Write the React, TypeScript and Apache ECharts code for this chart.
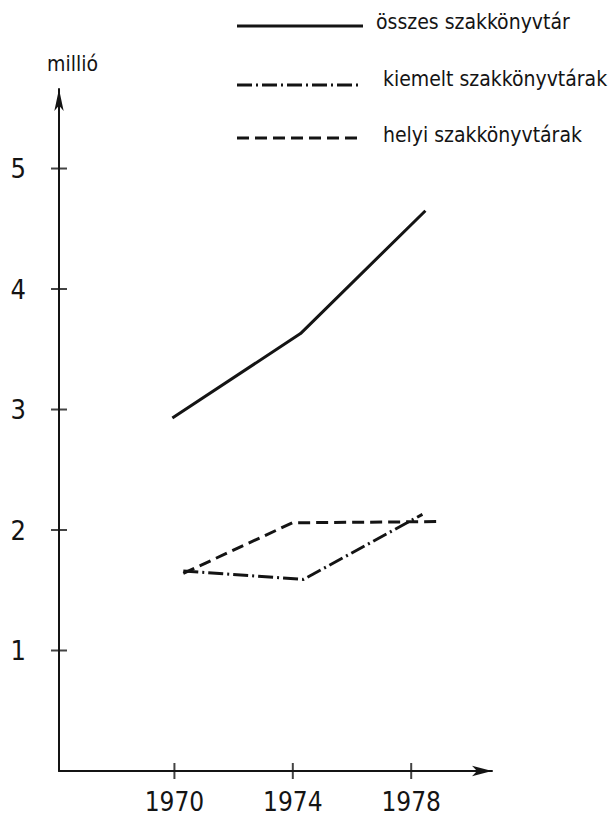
import React, { useEffect, useRef } from "react";
import * as echarts from "echarts";

// ---- data ----
const years = [1970, 1974, 1978];
const yTicks = [1, 2, 3, 4, 5];
const seriesNames = ["összes szakkönyvtár", "kiemelt szakkönyvtárak", "helyi szakkönyvtárak"];
const osszesX = [1969.93, 1974.26, 1978.48];
const osszesY = [2.93, 3.63, 4.65];
const kiemeltX = [1970.3, 1974.36, 1978.38];
const kiemeltY = [1.66, 1.59, 2.13];
const helyiX = [1970.3, 1973.99, 1978.89];
const helyiY = [1.64, 2.06, 2.07];
const yUnit = "millió";

const INK = "#141414";
const DIGIT_FONT = "'DejaVu Sans Condensed', 'Liberation Sans', sans-serif";
const TEXT_FONT = "'DejaVu Sans Condensed', 'Liberation Sans', sans-serif";
const DASH = [12, 6];
const DASH_DOT = [15, 4, 2, 4];

const zip = (xs: number[], ys: number[]) => xs.map((x, i) => [x, ys[i]]);

export default function App() {
  const ref = useRef<HTMLDivElement>(null);
  useEffect(() => {
    if (!ref.current) return;
    const chart = echarts.init(ref.current, null, { renderer: "svg" });
    const xMin = 1966.1;
    const xMax = 1980.73;
    const yMin = 0;
    const yMax = 5.66;
    const legendRows = [
      { y: 26, tx: 376, ty: 22, dash: null as number[] | null, x2: 363 },
      { y: 85, tx: 383, ty: 79, dash: DASH_DOT, x2: 360 },
      { y: 138, tx: 383, ty: 135, dash: DASH, x2: 362 },
    ];
    const graphic: any[] = [];
    legendRows.forEach((r, i) => {
      graphic.push({
        type: "line",
        shape: { x1: 237, y1: r.y, x2: r.x2, y2: r.y },
        style: { stroke: INK, lineWidth: 3, lineDash: r.dash || undefined },
      });
      graphic.push({
        type: "text",
        x: r.tx,
        y: r.ty,
        style: {
          text: seriesNames[i],
          fontSize: 21,
          fontFamily: TEXT_FONT,
          fill: INK,
          align: "left",
          verticalAlign: "middle",
        },
      });
    });
    graphic.push({
      type: "text",
      x: 47,
      y: 64,
      style: {
        text: yUnit,
        fontSize: 21,
        fontFamily: TEXT_FONT,
        fill: INK,
        align: "left",
        verticalAlign: "middle",
      },
    });

    chart.setOption({
      animation: false,
      backgroundColor: "#ffffff",
      grid: {
        left: 59,
        right: 124,
        top: 89,
        bottom: 45,
        containLabel: false,
        outerBoundsMode: "none",
      },
      xAxis: {
        type: "value",
        min: xMin,
        max: xMax,
        axisLine: {
          show: true,
          symbol: ["none", "arrow"],
          symbolSize: [8, 20],
          lineStyle: { color: INK, width: 2 },
        },
        axisTick: { show: false },
        axisLabel: {
          customValues: years,
          margin: 19,
          fontSize: 26,
          lineHeight: 24,
          fontFamily: DIGIT_FONT,
          color: INK,
          formatter: (v: number) => String(Math.round(v)),
        },
        splitLine: { show: false },
      },
      yAxis: {
        type: "value",
        min: yMin,
        max: yMax,
        axisLine: {
          show: true,
          symbol: ["none", "arrow"],
          symbolSize: [7, 22],
          lineStyle: { color: INK, width: 2 },
        },
        axisTick: { show: false },
        axisLabel: {
          customValues: yTicks,
          margin: 33,
          fontSize: 27,
          fontFamily: DIGIT_FONT,
          color: INK,
          formatter: (v: number) => String(Math.round(v)),
        },
        splitLine: { show: false },
      },
      series: [
        {
          name: seriesNames[0],
          type: "line",
          data: zip(osszesX, osszesY),
          symbol: "none",
          lineStyle: { color: INK, width: 3, type: "solid" },
        },
        {
          name: seriesNames[1],
          type: "line",
          data: zip(kiemeltX, kiemeltY),
          symbol: "none",
          lineStyle: { color: INK, width: 3, type: DASH_DOT },
        },
        {
          name: seriesNames[2],
          type: "line",
          data: zip(helyiX, helyiY),
          symbol: "none",
          lineStyle: { color: INK, width: 3, type: DASH },
        },
        {
          name: "y-ticks",
          type: "scatter",
          data: yTicks.map((v) => [xMin, v]),
          symbol: "rect",
          symbolSize: [16, 2],
          itemStyle: { color: INK },
          clip: false,
          silent: true,
        },
        {
          name: "x-ticks",
          type: "scatter",
          data: years.map((v) => [v, yMin]),
          symbol: "rect",
          symbolSize: [2, 16],
          itemStyle: { color: INK },
          clip: false,
          silent: true,
        },
      ],
      graphic,
    });
    return () => chart.dispose();
  }, []);
  return (
    <div
      ref={ref}
      style={{ position: "absolute", left: 0, top: 0, width: 616, height: 816, background: "#fff" }}
    />
  );
}
